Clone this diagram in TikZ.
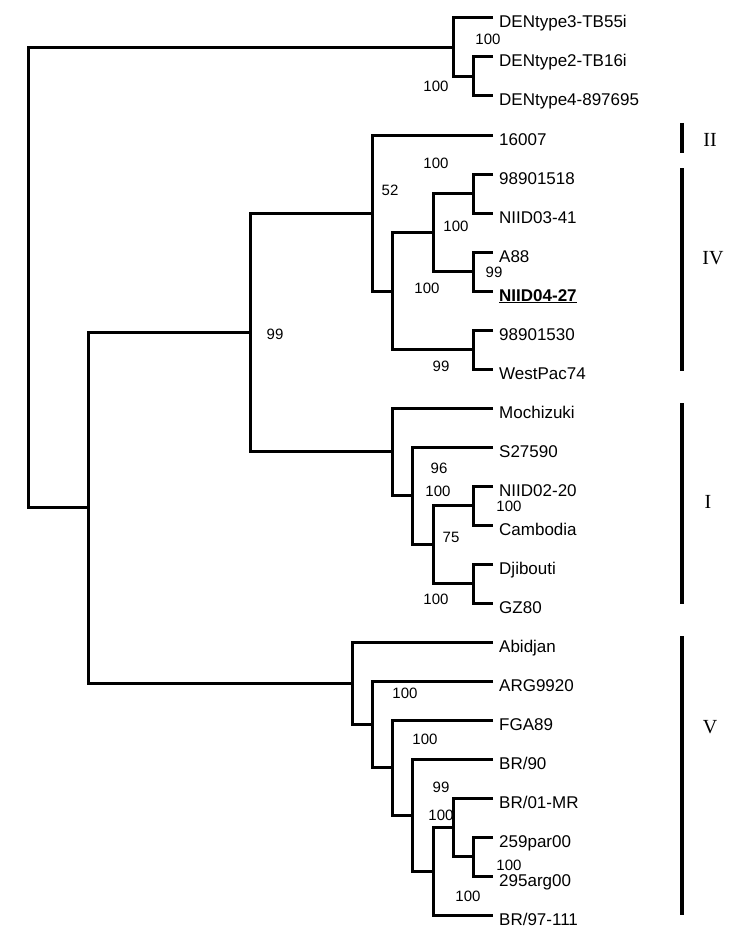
\documentclass[tikz,border=0pt]{standalone}
\usepackage{fontspec}
\setmainfont{Liberation Sans}
\newfontfamily\cladefont{Liberation Serif}
\usepackage{tikz}

\begin{document}
\begin{tikzpicture}[
      x=1pt, y=-1pt,
      limb/.style={draw=black, line width=3pt, line join=miter},
      bar/.style={line width=4pt},
      taxon/.style={anchor=base west, inner sep=0pt,
        font=\fontsize{17}{20}\selectfont},
      boot/.style={inner sep=0pt, font=\fontsize{15}{18}\selectfont},
      cladelab/.style={inner sep=0pt, font=\cladefont\fontsize{20}{24}\selectfont}
    ]
    \newcommand{\leafnode}[3]{%
      \coordinate (#1) at (493,#2);
      \node[taxon] (#1-lab) at (499,#2+10) {#3};
    }
    \newcommand{\clade}[3]{%
      \draw[limb] (#1) -| (#2) |- (#3);
    }
    \newcommand{\ulbold}[1]{%
      \setbox0\hbox{\bfseries #1}%
      \rlap{\rule[-2.3pt]{\wd0}{1.3pt}}\box0}

    \useasboundingbox (0,0) rectangle (750,947);

    \leafnode{d3}{18}{DENtype3-TB55i}
    \leafnode{d2}{57}{DENtype2-TB16i}
    \leafnode{d4}{96}{DENtype4-897695}
    \leafnode{s16007}{135}{16007}
    \leafnode{s18}{174}{98901518}
    \leafnode{n0341}{213}{NIID03-41}
    \leafnode{a88}{252}{A88}
    \leafnode{n0427}{291}{\ulbold{NIID04-27}}
    \leafnode{s30}{330}{98901530}
    \leafnode{wp74}{369}{WestPac74}
    \leafnode{mochi}{408}{Mochizuki}
    \leafnode{s27590}{447}{S27590}
    \leafnode{n0220}{486}{NIID02-20}
    \leafnode{camb}{525}{Cambodia}
    \leafnode{djib}{564}{Djibouti}
    \leafnode{gz80}{603}{GZ80}
    \leafnode{abid}{642}{Abidjan}
    \leafnode{arg}{681}{ARG9920}
    \leafnode{fga}{720}{FGA89}
    \leafnode{br90}{759}{BR/90}
    \leafnode{br01}{798}{BR/01-MR}
    \leafnode{p259}{837}{259par00}
    \leafnode{a295}{876}{295arg00}
    \leafnode{br97}{915}{BR/97-111}

    \coordinate (root) at (28,277.5);
    \coordinate (n-out) at (453,47.25);
    \coordinate (n-d24) at (473,76.5);
    \coordinate (n-main) at (88,507.8);
    \coordinate (nA) at (250,332.4);
    \coordinate (nB) at (372,213);
    \coordinate (nC) at (392,291);
    \coordinate (nD) at (433,232.5);
    \coordinate (nE) at (473,193.5);
    \coordinate (nF) at (473,271.5);
    \coordinate (nG) at (473,349.5);
    \coordinate (nH) at (392,451.9);
    \coordinate (nI) at (412,495.75);
    \coordinate (nJ) at (433,544.5);
    \coordinate (nK) at (473,505.5);
    \coordinate (nL) at (473,583.5);
    \coordinate (nM) at (352,683.1);
    \coordinate (nN) at (372,724.3);
    \coordinate (nO) at (392,767.5);
    \coordinate (nP) at (412,815);
    \coordinate (nQ) at (433,871.1);
    \coordinate (nR) at (453,827.25);
    \coordinate (nS) at (473,856.5);

    \clade{d3}{n-out}{n-d24}
    \clade{d2}{n-d24}{d4}
    \clade{n-out}{root}{n-main}
    \clade{nA}{n-main}{nM}
    \clade{nB}{nA}{nH}
    \clade{s16007}{nB}{nC}
    \clade{nD}{nC}{nG}
    \clade{nE}{nD}{nF}
    \clade{s18}{nE}{n0341}
    \clade{a88}{nF}{n0427}
    \clade{s30}{nG}{wp74}
    \clade{mochi}{nH}{nI}
    \clade{s27590}{nI}{nJ}
    \clade{nK}{nJ}{nL}
    \clade{n0220}{nK}{camb}
    \clade{djib}{nL}{gz80}
    \clade{abid}{nM}{nN}
    \clade{arg}{nN}{nO}
    \clade{fga}{nO}{nP}
    \clade{br90}{nP}{nQ}
    \clade{nR}{nQ}{br97}
    \clade{br01}{nR}{nS}
    \clade{p259}{nS}{a295}

    \node[boot] (b-d24) at (488,39) {100};
    \node[boot] (b-out) at (436,86) {100};
    \node[boot] (b-iv) at (436,163) {100};
    \node[boot] (b-B) at (390,190) {52};
    \node[boot] (b-D) at (456,226) {100};
    \node[boot] (b-F) at (494,272) {99};
    \node[boot] (b-C) at (427,288) {100};
    \node[boot] (b-G) at (441,366) {99};
    \node[boot] (b-A) at (275,334) {99};
    \node[boot] (b-H) at (439,468) {96};
    \node[boot] (b-I) at (438,491) {100};
    \node[boot] (b-K) at (509,506) {100};
    \node[boot] (b-J) at (451,537) {75};
    \node[boot] (b-L) at (436,599) {100};
    \node[boot] (b-N) at (405,693) {100};
    \node[boot] (b-O) at (425,739) {100};
    \node[boot] (b-P) at (441,787) {99};
    \node[boot] (b-R) at (441,815) {100};
    \node[boot] (b-S) at (509,865) {100};
    \node[boot] (b-Q) at (468,896) {100};

    \draw[bar] (682,123) -- (682,153);
    \draw[bar] (682,168) -- (682,371);
    \draw[bar] (682,403) -- (682,604);
    \draw[bar] (682,636) -- (682,915);
    \node[cladelab] (g-II) at (710,140) {II};
    \node[cladelab] (g-IV) at (713,258) {IV};
    \node[cladelab] (g-I) at (708,502) {I};
    \node[cladelab] (g-V) at (710,727) {V};
  \end{tikzpicture}
\end{document}
